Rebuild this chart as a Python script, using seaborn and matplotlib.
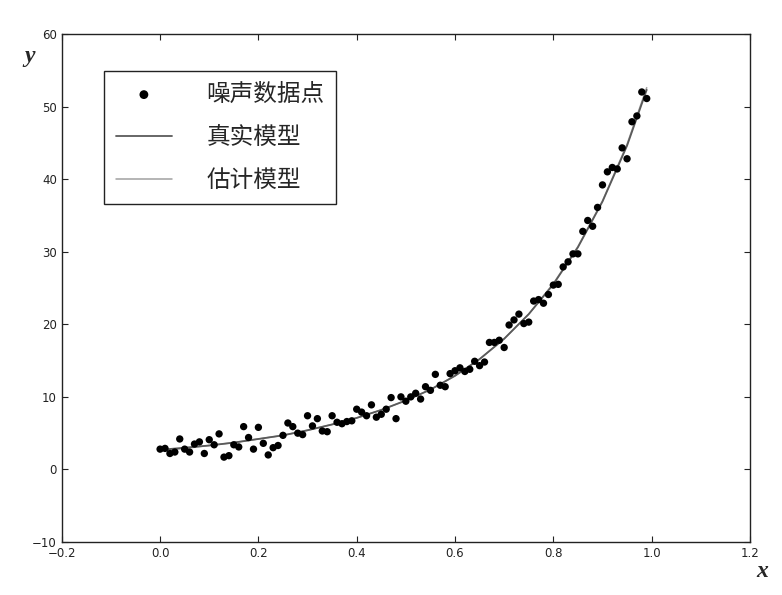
import numpy as np
import matplotlib
matplotlib.use('Agg')
import matplotlib.pyplot as plt
import seaborn as sns

# noisy samples, x = 0.00 ... 0.99
x_data = np.round(np.arange(0, 1.0, 0.01), 2)
y_data = [2.8, 2.9, 2.2, 2.4, 4.2, 2.8, 2.4, 3.5, 3.8, 2.2,
          4.1, 3.4, 4.9, 1.7, 1.9, 3.4, 3.1, 5.9, 4.4, 2.8,
          5.8, 3.6, 2.0, 3.0, 3.3, 4.7, 6.4, 5.9, 5.0, 4.8,
          7.4, 6.0, 7.0, 5.3, 5.2, 7.4, 6.5, 6.3, 6.6, 6.7,
          8.3, 7.9, 7.4, 8.9, 7.2, 7.6, 8.3, 9.9, 7.0, 10.0,
          9.4, 10.0, 10.5, 9.7, 11.4, 10.9, 13.1, 11.6, 11.4, 13.2,
          13.6, 14.0, 13.5, 13.8, 14.9, 14.3, 14.8, 17.5, 17.5, 17.8,
          16.8, 19.9, 20.6, 21.4, 20.1, 20.3, 23.2, 23.4, 22.9, 24.1,
          25.4, 25.5, 27.9, 28.6, 29.7, 29.7, 32.8, 34.3, 33.5, 36.1,
          39.2, 41.0, 41.6, 41.4, 44.3, 42.8, 47.9, 48.7, 52.0, 51.1]

# model curves
curve_x = [0.0, 0.05, 0.1, 0.15, 0.2, 0.25, 0.3, 0.35, 0.4, 0.45, 0.5,
           0.55, 0.6, 0.65, 0.7, 0.75, 0.8, 0.85, 0.9, 0.95, 0.99]
true_y = [2.7, 3.0, 3.3, 3.7, 4.2, 4.7, 5.4, 6.2, 7.1, 8.2, 9.5,
          11.0, 12.9, 15.2, 18.0, 21.4, 25.5, 30.6, 36.9, 44.6, 52.3]
est_y = [2.6, 2.9, 3.3, 3.7, 4.2, 4.7, 5.4, 6.2, 7.1, 8.2, 9.5,
         11.0, 12.9, 15.2, 18.0, 21.4, 25.6, 30.7, 37.0, 44.8, 52.6]

labels = ['噪声数据点', '真实模型', '估计模型']

sns.set_style('ticks')
plt.rcParams['font.family'] = ['DejaVu Sans', 'Noto Sans CJK SC']

fig, ax = plt.subplots(figsize=(7.82, 5.95), dpi=100)
fig.subplots_adjust(left=0.079, right=0.959, top=0.943, bottom=0.089)

sns.scatterplot(x=x_data, y=y_data, color='black', s=28, edgecolor='none',
                ax=ax, label=labels[0], zorder=3)
sns.lineplot(x=curve_x, y=true_y, color='#5a5a5a', lw=1.3, ax=ax,
             label=labels[1], zorder=2)
sns.lineplot(x=curve_x, y=est_y, color='#a0a0a0', lw=1.1, ax=ax,
             label=labels[2], zorder=1)

ax.set_xlim(-0.2, 1.2)
ax.set_ylim(-10, 60)
ax.set_xticks(np.round(np.arange(-0.2, 1.21, 0.2), 1))
ax.set_yticks(np.arange(-10, 61, 10))
ax.tick_params(direction='in', top=True, right=True, length=4, labelsize=8.5,
               colors='#222222')
for s in ax.spines.values():
    s.set_linewidth(1.0)
    s.set_color('#222222')

leg = ax.legend(loc='upper left', bbox_to_anchor=(0.061, 0.927),
                prop={'family': ['Noto Sans CJK SC'], 'size': 17},
                fancybox=False, edgecolor='#222222', framealpha=1,
                borderpad=0.5, labelspacing=0.85, handlelength=2.4,
                handletextpad=1.45, markerscale=1.2, borderaxespad=0)
leg.get_frame().set_linewidth(1.0)

fig.text(0.038, 0.905, 'y', family='Liberation Serif', style='italic',
         weight='bold', fontsize=17, ha='center', va='center')
fig.text(0.975, 0.04, 'x', family='Liberation Serif', style='italic',
         weight='bold', fontsize=17, ha='center', va='center')

fig.savefig('out.png', dpi=100)
